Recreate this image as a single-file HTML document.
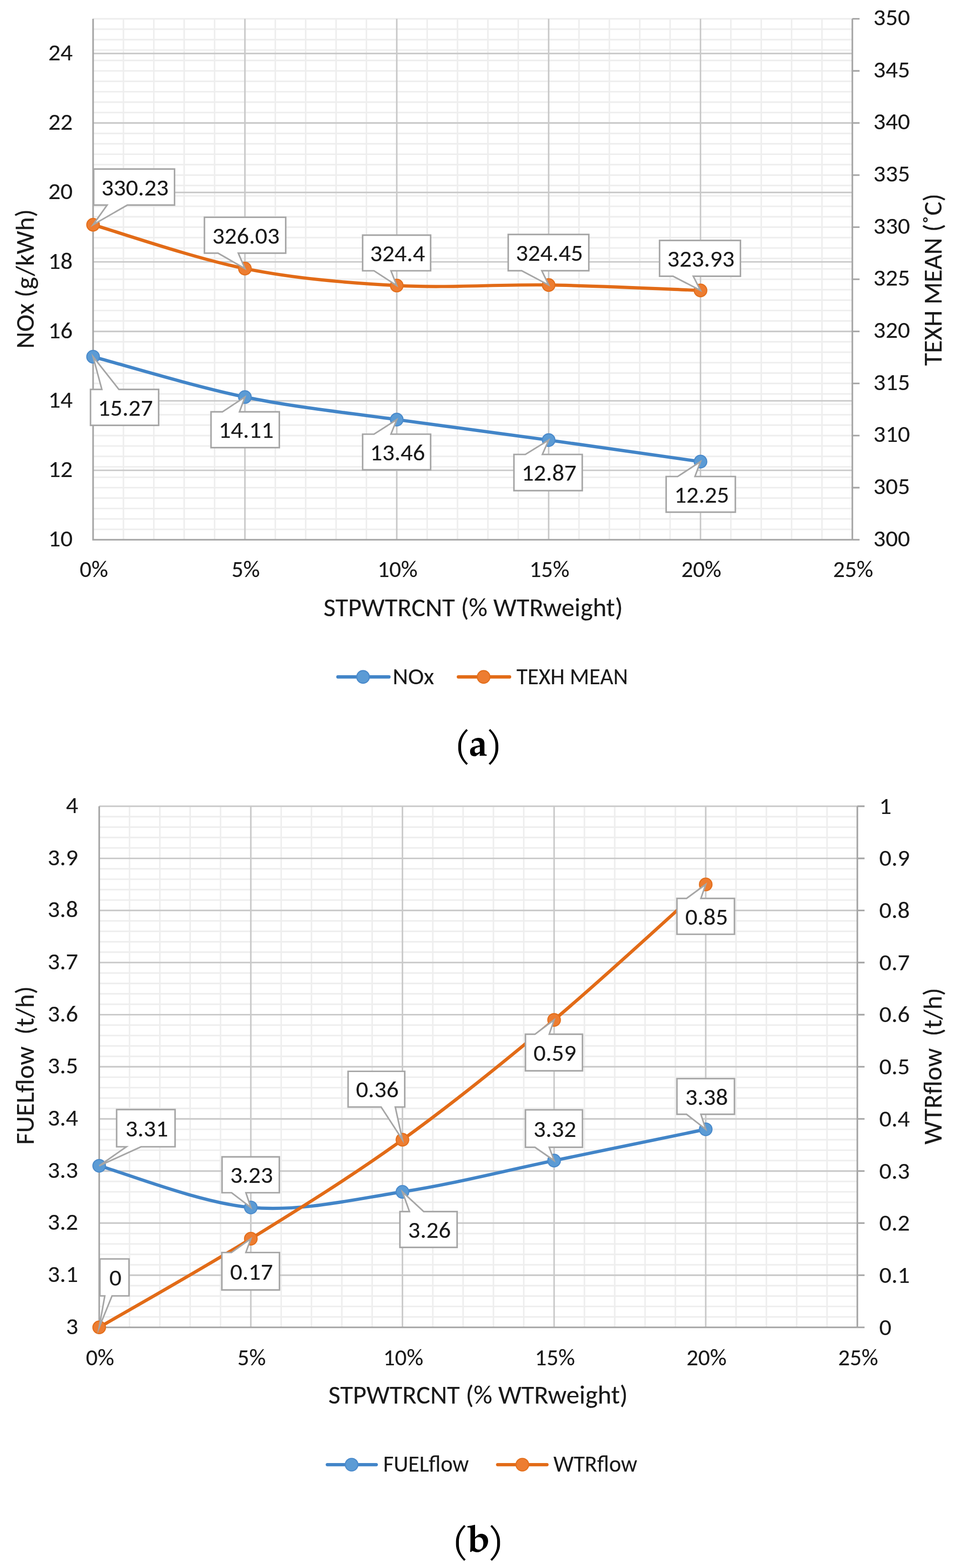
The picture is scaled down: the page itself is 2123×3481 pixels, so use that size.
<!DOCTYPE html><html><head><meta charset="utf-8"><title>Chart</title><style>html,body{margin:0;padding:0;background:#fff;}svg{display:block;}</style></head><body>
<svg width="2123" height="3481" viewBox="0 0 2123 3481">
<rect width="2123" height="3481" fill="#fff"/>
<path d="M274.1,41.7V1198.3M341.6,41.7V1198.3M409.0,41.7V1198.3M476.5,41.7V1198.3M611.4,41.7V1198.3M678.8,41.7V1198.3M746.3,41.7V1198.3M813.7,41.7V1198.3M948.6,41.7V1198.3M1016.0,41.7V1198.3M1083.5,41.7V1198.3M1150.9,41.7V1198.3M1285.8,41.7V1198.3M1353.2,41.7V1198.3M1420.7,41.7V1198.3M1488.1,41.7V1198.3M1623.0,41.7V1198.3M1690.5,41.7V1198.3M1757.9,41.7V1198.3M1825.4,41.7V1198.3M206.7,41.7H1892.8M206.7,64.8H1892.8M206.7,88.0H1892.8M206.7,111.1H1892.8M206.7,134.2H1892.8M206.7,157.4H1892.8M206.7,180.5H1892.8M206.7,203.6H1892.8M206.7,226.8H1892.8M206.7,249.9H1892.8M206.7,273.0H1892.8M206.7,296.2H1892.8M206.7,319.3H1892.8M206.7,342.4H1892.8M206.7,365.5H1892.8M206.7,388.7H1892.8M206.7,411.8H1892.8M206.7,434.9H1892.8M206.7,458.1H1892.8M206.7,481.2H1892.8M206.7,504.3H1892.8M206.7,527.5H1892.8M206.7,550.6H1892.8M206.7,573.7H1892.8M206.7,596.9H1892.8M206.7,620.0H1892.8M206.7,643.1H1892.8M206.7,666.3H1892.8M206.7,689.4H1892.8M206.7,712.5H1892.8M206.7,735.7H1892.8M206.7,758.8H1892.8M206.7,781.9H1892.8M206.7,805.1H1892.8M206.7,828.2H1892.8M206.7,851.3H1892.8M206.7,874.5H1892.8M206.7,897.6H1892.8M206.7,920.7H1892.8M206.7,943.8H1892.8M206.7,967.0H1892.8M206.7,990.1H1892.8M206.7,1013.2H1892.8M206.7,1036.4H1892.8M206.7,1059.5H1892.8M206.7,1082.6H1892.8M206.7,1105.8H1892.8M206.7,1128.9H1892.8M206.7,1152.0H1892.8M206.7,1175.2H1892.8" stroke="#eeeeee" stroke-width="3.4" fill="none"/>
<path d="M543.9,41.7V1198.3M881.1,41.7V1198.3M1218.4,41.7V1198.3M1555.6,41.7V1198.3M206.7,1044.1H1892.8M206.7,889.9H1892.8M206.7,735.7H1892.8M206.7,581.4H1892.8M206.7,427.2H1892.8M206.7,273.0H1892.8M206.7,118.8H1892.8" stroke="#c9c9c9" stroke-width="3.4" fill="none"/>
<path d="M206.7,41.7V1198.3H1892.8" stroke="#a6a6a6" stroke-width="3.6" fill="none"/>
<path d="M1892.8,41.7V1198.3M1892.8,1198.3h16M1892.8,1082.6h16M1892.8,967.0h16M1892.8,851.3h16M1892.8,735.7h16M1892.8,620.0h16M1892.8,504.3h16M1892.8,388.7h16M1892.8,273.0h16M1892.8,157.4h16M1892.8,41.7h16" stroke="#a6a6a6" stroke-width="3.6" fill="none"/>
<text x="161.5" y="1213.3" stroke="#1a1a1a" stroke-width="0.15" font-family="Carlito, 'Liberation Sans', sans-serif" font-size="51.5" text-anchor="end" fill="#1a1a1a" textLength="54.3" lengthAdjust="spacingAndGlyphs" style="white-space:pre;font-size-adjust:0.47754">10</text>
<text x="161.5" y="1059.1" stroke="#1a1a1a" stroke-width="0.15" font-family="Carlito, 'Liberation Sans', sans-serif" font-size="51.5" text-anchor="end" fill="#1a1a1a" textLength="54.3" lengthAdjust="spacingAndGlyphs" style="white-space:pre;font-size-adjust:0.47754">12</text>
<text x="161.5" y="904.9" stroke="#1a1a1a" stroke-width="0.15" font-family="Carlito, 'Liberation Sans', sans-serif" font-size="51.5" text-anchor="end" fill="#1a1a1a" textLength="54.3" lengthAdjust="spacingAndGlyphs" style="white-space:pre;font-size-adjust:0.47754">14</text>
<text x="161.5" y="750.7" stroke="#1a1a1a" stroke-width="0.15" font-family="Carlito, 'Liberation Sans', sans-serif" font-size="51.5" text-anchor="end" fill="#1a1a1a" textLength="54.3" lengthAdjust="spacingAndGlyphs" style="white-space:pre;font-size-adjust:0.47754">16</text>
<text x="161.5" y="596.5" stroke="#1a1a1a" stroke-width="0.15" font-family="Carlito, 'Liberation Sans', sans-serif" font-size="51.5" text-anchor="end" fill="#1a1a1a" textLength="54.3" lengthAdjust="spacingAndGlyphs" style="white-space:pre;font-size-adjust:0.47754">18</text>
<text x="161.5" y="442.3" stroke="#1a1a1a" stroke-width="0.15" font-family="Carlito, 'Liberation Sans', sans-serif" font-size="51.5" text-anchor="end" fill="#1a1a1a" textLength="54.3" lengthAdjust="spacingAndGlyphs" style="white-space:pre;font-size-adjust:0.47754">20</text>
<text x="161.5" y="288.0" stroke="#1a1a1a" stroke-width="0.15" font-family="Carlito, 'Liberation Sans', sans-serif" font-size="51.5" text-anchor="end" fill="#1a1a1a" textLength="54.3" lengthAdjust="spacingAndGlyphs" style="white-space:pre;font-size-adjust:0.47754">22</text>
<text x="161.5" y="133.8" stroke="#1a1a1a" stroke-width="0.15" font-family="Carlito, 'Liberation Sans', sans-serif" font-size="51.5" text-anchor="end" fill="#1a1a1a" textLength="54.3" lengthAdjust="spacingAndGlyphs" style="white-space:pre;font-size-adjust:0.47754">24</text>
<text x="1939.5" y="1212.6" stroke="#1a1a1a" stroke-width="0.15" font-family="Carlito, 'Liberation Sans', sans-serif" font-size="51.5" text-anchor="start" fill="#1a1a1a" textLength="81.4" lengthAdjust="spacingAndGlyphs" style="white-space:pre;font-size-adjust:0.47754">300</text>
<text x="1939.5" y="1097.0" stroke="#1a1a1a" stroke-width="0.15" font-family="Carlito, 'Liberation Sans', sans-serif" font-size="51.5" text-anchor="start" fill="#1a1a1a" textLength="81.4" lengthAdjust="spacingAndGlyphs" style="white-space:pre;font-size-adjust:0.47754">305</text>
<text x="1939.5" y="981.3" stroke="#1a1a1a" stroke-width="0.15" font-family="Carlito, 'Liberation Sans', sans-serif" font-size="51.5" text-anchor="start" fill="#1a1a1a" textLength="81.4" lengthAdjust="spacingAndGlyphs" style="white-space:pre;font-size-adjust:0.47754">310</text>
<text x="1939.5" y="865.6" stroke="#1a1a1a" stroke-width="0.15" font-family="Carlito, 'Liberation Sans', sans-serif" font-size="51.5" text-anchor="start" fill="#1a1a1a" textLength="81.4" lengthAdjust="spacingAndGlyphs" style="white-space:pre;font-size-adjust:0.47754">315</text>
<text x="1939.5" y="750.0" stroke="#1a1a1a" stroke-width="0.15" font-family="Carlito, 'Liberation Sans', sans-serif" font-size="51.5" text-anchor="start" fill="#1a1a1a" textLength="81.4" lengthAdjust="spacingAndGlyphs" style="white-space:pre;font-size-adjust:0.47754">320</text>
<text x="1939.5" y="634.3" stroke="#1a1a1a" stroke-width="0.15" font-family="Carlito, 'Liberation Sans', sans-serif" font-size="51.5" text-anchor="start" fill="#1a1a1a" textLength="81.4" lengthAdjust="spacingAndGlyphs" style="white-space:pre;font-size-adjust:0.47754">325</text>
<text x="1939.5" y="518.7" stroke="#1a1a1a" stroke-width="0.15" font-family="Carlito, 'Liberation Sans', sans-serif" font-size="51.5" text-anchor="start" fill="#1a1a1a" textLength="81.4" lengthAdjust="spacingAndGlyphs" style="white-space:pre;font-size-adjust:0.47754">330</text>
<text x="1939.5" y="403.0" stroke="#1a1a1a" stroke-width="0.15" font-family="Carlito, 'Liberation Sans', sans-serif" font-size="51.5" text-anchor="start" fill="#1a1a1a" textLength="81.4" lengthAdjust="spacingAndGlyphs" style="white-space:pre;font-size-adjust:0.47754">335</text>
<text x="1939.5" y="287.3" stroke="#1a1a1a" stroke-width="0.15" font-family="Carlito, 'Liberation Sans', sans-serif" font-size="51.5" text-anchor="start" fill="#1a1a1a" textLength="81.4" lengthAdjust="spacingAndGlyphs" style="white-space:pre;font-size-adjust:0.47754">340</text>
<text x="1939.5" y="171.7" stroke="#1a1a1a" stroke-width="0.15" font-family="Carlito, 'Liberation Sans', sans-serif" font-size="51.5" text-anchor="start" fill="#1a1a1a" textLength="81.4" lengthAdjust="spacingAndGlyphs" style="white-space:pre;font-size-adjust:0.47754">345</text>
<text x="1939.5" y="56.0" stroke="#1a1a1a" stroke-width="0.15" font-family="Carlito, 'Liberation Sans', sans-serif" font-size="51.5" text-anchor="start" fill="#1a1a1a" textLength="81.4" lengthAdjust="spacingAndGlyphs" style="white-space:pre;font-size-adjust:0.47754">350</text>
<text x="208.5" y="1281.0" stroke="#1a1a1a" stroke-width="0.15" font-family="Carlito, 'Liberation Sans', sans-serif" font-size="51.5" text-anchor="middle" fill="#1a1a1a" textLength="62.9" lengthAdjust="spacingAndGlyphs" style="white-space:pre;font-size-adjust:0.47754">0%</text>
<text x="545.7" y="1281.0" stroke="#1a1a1a" stroke-width="0.15" font-family="Carlito, 'Liberation Sans', sans-serif" font-size="51.5" text-anchor="middle" fill="#1a1a1a" textLength="62.9" lengthAdjust="spacingAndGlyphs" style="white-space:pre;font-size-adjust:0.47754">5%</text>
<text x="882.9" y="1281.0" stroke="#1a1a1a" stroke-width="0.15" font-family="Carlito, 'Liberation Sans', sans-serif" font-size="51.5" text-anchor="middle" fill="#1a1a1a" textLength="89.0" lengthAdjust="spacingAndGlyphs" style="white-space:pre;font-size-adjust:0.47754">10%</text>
<text x="1220.2" y="1281.0" stroke="#1a1a1a" stroke-width="0.15" font-family="Carlito, 'Liberation Sans', sans-serif" font-size="51.5" text-anchor="middle" fill="#1a1a1a" textLength="89.0" lengthAdjust="spacingAndGlyphs" style="white-space:pre;font-size-adjust:0.47754">15%</text>
<text x="1557.4" y="1281.0" stroke="#1a1a1a" stroke-width="0.15" font-family="Carlito, 'Liberation Sans', sans-serif" font-size="51.5" text-anchor="middle" fill="#1a1a1a" textLength="89.0" lengthAdjust="spacingAndGlyphs" style="white-space:pre;font-size-adjust:0.47754">20%</text>
<text x="1894.6" y="1281.0" stroke="#1a1a1a" stroke-width="0.15" font-family="Carlito, 'Liberation Sans', sans-serif" font-size="51.5" text-anchor="middle" fill="#1a1a1a" textLength="89.0" lengthAdjust="spacingAndGlyphs" style="white-space:pre;font-size-adjust:0.47754">25%</text>
<path d="M206.7,791.9 C262.9,806.9 431.5,858.1 543.9,881.4 C656.3,904.7 768.7,915.6 881.1,931.5 C993.5,947.4 1106.0,961.5 1218.4,977.0 C1330.8,992.6 1499.4,1016.8 1555.6,1024.8" stroke="#4285c8" stroke-width="7.2" fill="none" stroke-linecap="round" stroke-linejoin="round"/>
<path d="M206.7,499.0 C262.9,515.2 431.5,573.7 543.9,596.2 C656.3,618.7 768.7,627.8 881.1,633.9 C993.5,640.0 1106.0,630.9 1218.4,632.7 C1330.8,634.5 1499.4,642.7 1555.6,644.8" stroke="#e26b17" stroke-width="7.2" fill="none" stroke-linecap="round" stroke-linejoin="round"/>
<circle cx="206.7" cy="791.9" r="14.0" fill="#5b9bd5" stroke="#4a8acb" stroke-width="2.4"/>
<circle cx="543.9" cy="881.4" r="14.0" fill="#5b9bd5" stroke="#4a8acb" stroke-width="2.4"/>
<circle cx="881.1" cy="931.5" r="14.0" fill="#5b9bd5" stroke="#4a8acb" stroke-width="2.4"/>
<circle cx="1218.4" cy="977.0" r="14.0" fill="#5b9bd5" stroke="#4a8acb" stroke-width="2.4"/>
<circle cx="1555.6" cy="1024.8" r="14.0" fill="#5b9bd5" stroke="#4a8acb" stroke-width="2.4"/>
<circle cx="206.7" cy="499.0" r="14.0" fill="#ed7d31" stroke="#e36f1c" stroke-width="2.4"/>
<circle cx="543.9" cy="596.2" r="14.0" fill="#ed7d31" stroke="#e36f1c" stroke-width="2.4"/>
<circle cx="881.1" cy="633.9" r="14.0" fill="#ed7d31" stroke="#e36f1c" stroke-width="2.4"/>
<circle cx="1218.4" cy="632.7" r="14.0" fill="#ed7d31" stroke="#e36f1c" stroke-width="2.4"/>
<circle cx="1555.6" cy="644.8" r="14.0" fill="#ed7d31" stroke="#e36f1c" stroke-width="2.4"/>
<path d="M201.0,864.5 L226.2,864.5 L206.7,791.9 L264.0,864.5 L352.3,864.5 L352.3,944.3 L201.0,944.3 Z" fill="#fff" stroke="#a6a6a6" stroke-width="3.4" stroke-linejoin="miter" stroke-miterlimit="10"/>
<text x="278.6" y="922.7" stroke="#1a1a1a" stroke-width="0.15" font-family="Carlito, 'Liberation Sans', sans-serif" font-size="51.5" text-anchor="middle" fill="#1a1a1a" textLength="122.1" lengthAdjust="spacingAndGlyphs" style="white-space:pre;font-size-adjust:0.47754">15.27</text>
<path d="M468.6,914.3 L493.9,914.3 L543.9,881.4 L531.8,914.3 L620.3,914.3 L620.3,993.7 L468.6,993.7 Z" fill="#fff" stroke="#a6a6a6" stroke-width="3.4" stroke-linejoin="miter" stroke-miterlimit="10"/>
<text x="546.5" y="972.3" stroke="#1a1a1a" stroke-width="0.15" font-family="Carlito, 'Liberation Sans', sans-serif" font-size="51.5" text-anchor="middle" fill="#1a1a1a" textLength="122.1" lengthAdjust="spacingAndGlyphs" style="white-space:pre;font-size-adjust:0.47754">14.11</text>
<path d="M805.3,963.9 L830.5,963.9 L881.1,931.5 L868.2,963.9 L956.3,963.9 L956.3,1043.0 L805.3,1043.0 Z" fill="#fff" stroke="#a6a6a6" stroke-width="3.4" stroke-linejoin="miter" stroke-miterlimit="10"/>
<text x="882.8" y="1021.8" stroke="#1a1a1a" stroke-width="0.15" font-family="Carlito, 'Liberation Sans', sans-serif" font-size="51.5" text-anchor="middle" fill="#1a1a1a" textLength="122.1" lengthAdjust="spacingAndGlyphs" style="white-space:pre;font-size-adjust:0.47754">13.46</text>
<path d="M1141.3,1008.9 L1166.6,1008.9 L1218.4,977.0 L1204.5,1008.9 L1293.0,1008.9 L1293.0,1089.2 L1141.3,1089.2 Z" fill="#fff" stroke="#a6a6a6" stroke-width="3.4" stroke-linejoin="miter" stroke-miterlimit="10"/>
<text x="1219.2" y="1067.4" stroke="#1a1a1a" stroke-width="0.15" font-family="Carlito, 'Liberation Sans', sans-serif" font-size="51.5" text-anchor="middle" fill="#1a1a1a" textLength="122.1" lengthAdjust="spacingAndGlyphs" style="white-space:pre;font-size-adjust:0.47754">12.87</text>
<path d="M1479.3,1057.9 L1504.9,1057.9 L1555.6,1024.8 L1543.3,1057.9 L1633.0,1057.9 L1633.0,1137.0 L1479.3,1137.0 Z" fill="#fff" stroke="#a6a6a6" stroke-width="3.4" stroke-linejoin="miter" stroke-miterlimit="10"/>
<text x="1558.2" y="1115.8" stroke="#1a1a1a" stroke-width="0.15" font-family="Carlito, 'Liberation Sans', sans-serif" font-size="51.5" text-anchor="middle" fill="#1a1a1a" textLength="122.1" lengthAdjust="spacingAndGlyphs" style="white-space:pre;font-size-adjust:0.47754">12.25</text>
<path d="M208.0,375.3 L387.6,375.3 L387.6,455.2 L282.8,455.2 L206.7,499.0 L237.9,455.2 L208.0,455.2 Z" fill="#fff" stroke="#a6a6a6" stroke-width="3.4" stroke-linejoin="miter" stroke-miterlimit="10"/>
<text x="299.8" y="433.6" stroke="#1a1a1a" stroke-width="0.15" font-family="Carlito, 'Liberation Sans', sans-serif" font-size="51.5" text-anchor="middle" fill="#1a1a1a" textLength="149.3" lengthAdjust="spacingAndGlyphs" style="white-space:pre;font-size-adjust:0.47754">330.23</text>
<path d="M454.0,482.4 L634.5,482.4 L634.5,562.0 L529.2,562.0 L543.9,596.2 L484.1,562.0 L454.0,562.0 Z" fill="#fff" stroke="#a6a6a6" stroke-width="3.4" stroke-linejoin="miter" stroke-miterlimit="10"/>
<text x="546.2" y="540.5" stroke="#1a1a1a" stroke-width="0.15" font-family="Carlito, 'Liberation Sans', sans-serif" font-size="51.5" text-anchor="middle" fill="#1a1a1a" textLength="149.3" lengthAdjust="spacingAndGlyphs" style="white-space:pre;font-size-adjust:0.47754">326.03</text>
<path d="M805.3,522.0 L956.3,522.0 L956.3,601.1 L868.2,601.1 L881.1,633.9 L830.5,601.1 L805.3,601.1 Z" fill="#fff" stroke="#a6a6a6" stroke-width="3.4" stroke-linejoin="miter" stroke-miterlimit="10"/>
<text x="882.8" y="579.9" stroke="#1a1a1a" stroke-width="0.15" font-family="Carlito, 'Liberation Sans', sans-serif" font-size="51.5" text-anchor="middle" fill="#1a1a1a" textLength="122.1" lengthAdjust="spacingAndGlyphs" style="white-space:pre;font-size-adjust:0.47754">324.4</text>
<path d="M1128.6,520.5 L1307.6,520.5 L1307.6,601.0 L1203.2,601.0 L1218.4,632.7 L1158.4,601.0 L1128.6,601.0 Z" fill="#fff" stroke="#a6a6a6" stroke-width="3.4" stroke-linejoin="miter" stroke-miterlimit="10"/>
<text x="1220.1" y="579.1" stroke="#1a1a1a" stroke-width="0.15" font-family="Carlito, 'Liberation Sans', sans-serif" font-size="51.5" text-anchor="middle" fill="#1a1a1a" textLength="149.3" lengthAdjust="spacingAndGlyphs" style="white-space:pre;font-size-adjust:0.47754">324.45</text>
<path d="M1464.7,533.7 L1644.3,533.7 L1644.3,613.2 L1539.5,613.2 L1555.6,644.8 L1494.6,613.2 L1464.7,613.2 Z" fill="#fff" stroke="#a6a6a6" stroke-width="3.4" stroke-linejoin="miter" stroke-miterlimit="10"/>
<text x="1556.5" y="591.8" stroke="#1a1a1a" stroke-width="0.15" font-family="Carlito, 'Liberation Sans', sans-serif" font-size="51.5" text-anchor="middle" fill="#1a1a1a" textLength="149.3" lengthAdjust="spacingAndGlyphs" style="white-space:pre;font-size-adjust:0.47754">323.93</text>
<text x="74.7" y="619.2" stroke="#1a1a1a" stroke-width="0.15" font-family="Carlito, 'Liberation Sans', sans-serif" font-size="58" text-anchor="middle" fill="#1a1a1a" textLength="309.4" lengthAdjust="spacingAndGlyphs" transform="rotate(-90 74.7 619.2)" style="white-space:pre;font-size-adjust:0.47754">NOx (g/kWh)</text>
<text x="2091.4" y="621.0" stroke="#1a1a1a" stroke-width="0.15" font-family="Carlito, 'Liberation Sans', sans-serif" font-size="58" text-anchor="middle" fill="#1a1a1a" textLength="382.0" lengthAdjust="spacingAndGlyphs" transform="rotate(-90 2091.4 621.0)" style="white-space:pre;font-size-adjust:0.47754">TEXH MEAN (˚C)</text>
<text x="1050.9" y="1367.5" stroke="#1a1a1a" stroke-width="0.15" font-family="Carlito, 'Liberation Sans', sans-serif" font-size="58" text-anchor="middle" fill="#1a1a1a" textLength="665.0" lengthAdjust="spacingAndGlyphs" style="white-space:pre;font-size-adjust:0.47754">STPWTRCNT (% WTRweight)</text>
<path d="M750.4,1502.8H863.8" stroke="#4285c8" stroke-width="7.4" stroke-linecap="round"/>
<circle cx="806.2" cy="1502.8" r="14.0" fill="#5b9bd5" stroke="#4a8acb" stroke-width="2.4"/>
<text x="872.0" y="1518.5" stroke="#1a1a1a" stroke-width="0.15" font-family="Carlito, 'Liberation Sans', sans-serif" font-size="50.5" text-anchor="start" fill="#1a1a1a" textLength="92.0" lengthAdjust="spacingAndGlyphs" style="white-space:pre;font-size-adjust:0.47754">NOx</text>
<path d="M1018.0,1502.8H1131.6" stroke="#e26b17" stroke-width="7.4" stroke-linecap="round"/>
<circle cx="1074.0" cy="1502.8" r="14.0" fill="#ed7d31" stroke="#e36f1c" stroke-width="2.4"/>
<text x="1147.0" y="1518.5" stroke="#1a1a1a" stroke-width="0.15" font-family="Carlito, 'Liberation Sans', sans-serif" font-size="50.5" text-anchor="start" fill="#1a1a1a" textLength="247.5" lengthAdjust="spacingAndGlyphs" style="white-space:pre;font-size-adjust:0.47754">TEXH MEAN</text>
<path d="M287.6,1789.9V2946.7M355.0,1789.9V2946.7M422.3,1789.9V2946.7M489.7,1789.9V2946.7M624.4,1789.9V2946.7M691.7,1789.9V2946.7M759.1,1789.9V2946.7M826.4,1789.9V2946.7M961.1,1789.9V2946.7M1028.4,1789.9V2946.7M1095.8,1789.9V2946.7M1163.1,1789.9V2946.7M1297.8,1789.9V2946.7M1365.1,1789.9V2946.7M1432.5,1789.9V2946.7M1499.8,1789.9V2946.7M1634.5,1789.9V2946.7M1701.9,1789.9V2946.7M1769.2,1789.9V2946.7M1836.6,1789.9V2946.7M220.3,1789.9H1903.9M220.3,1813.0H1903.9M220.3,1836.2H1903.9M220.3,1859.3H1903.9M220.3,1882.4H1903.9M220.3,1905.6H1903.9M220.3,1928.7H1903.9M220.3,1951.9H1903.9M220.3,1975.0H1903.9M220.3,1998.1H1903.9M220.3,2021.3H1903.9M220.3,2044.4H1903.9M220.3,2067.5H1903.9M220.3,2090.7H1903.9M220.3,2113.8H1903.9M220.3,2136.9H1903.9M220.3,2160.1H1903.9M220.3,2183.2H1903.9M220.3,2206.3H1903.9M220.3,2229.5H1903.9M220.3,2252.6H1903.9M220.3,2275.8H1903.9M220.3,2298.9H1903.9M220.3,2322.0H1903.9M220.3,2345.2H1903.9M220.3,2368.3H1903.9M220.3,2391.4H1903.9M220.3,2414.6H1903.9M220.3,2437.7H1903.9M220.3,2460.8H1903.9M220.3,2484.0H1903.9M220.3,2507.1H1903.9M220.3,2530.3H1903.9M220.3,2553.4H1903.9M220.3,2576.5H1903.9M220.3,2599.7H1903.9M220.3,2622.8H1903.9M220.3,2645.9H1903.9M220.3,2669.1H1903.9M220.3,2692.2H1903.9M220.3,2715.3H1903.9M220.3,2738.5H1903.9M220.3,2761.6H1903.9M220.3,2784.7H1903.9M220.3,2807.9H1903.9M220.3,2831.0H1903.9M220.3,2854.2H1903.9M220.3,2877.3H1903.9M220.3,2900.4H1903.9M220.3,2923.6H1903.9" stroke="#eeeeee" stroke-width="3.4" fill="none"/>
<path d="M557.0,1789.9V2946.7M893.7,1789.9V2946.7M1230.5,1789.9V2946.7M1567.2,1789.9V2946.7M220.3,2831.0H1903.9M220.3,2715.3H1903.9M220.3,2599.7H1903.9M220.3,2484.0H1903.9M220.3,2368.3H1903.9M220.3,2252.6H1903.9M220.3,2136.9H1903.9M220.3,2021.3H1903.9M220.3,1905.6H1903.9M220.3,1789.9H1903.9" stroke="#c9c9c9" stroke-width="3.4" fill="none"/>
<path d="M220.3,1789.9V2946.7H1903.9" stroke="#a6a6a6" stroke-width="3.6" fill="none"/>
<path d="M1903.9,1789.9V2946.7M1903.9,2946.7h16M1903.9,2831.0h16M1903.9,2715.3h16M1903.9,2599.7h16M1903.9,2484.0h16M1903.9,2368.3h16M1903.9,2252.6h16M1903.9,2136.9h16M1903.9,2021.3h16M1903.9,1905.6h16M1903.9,1789.9h16" stroke="#a6a6a6" stroke-width="3.6" fill="none"/>
<text x="173.5" y="2961.7" stroke="#1a1a1a" stroke-width="0.15" font-family="Carlito, 'Liberation Sans', sans-serif" font-size="51.5" text-anchor="end" fill="#1a1a1a" textLength="27.1" lengthAdjust="spacingAndGlyphs" style="white-space:pre;font-size-adjust:0.47754">3</text>
<text x="173.5" y="2846.0" stroke="#1a1a1a" stroke-width="0.15" font-family="Carlito, 'Liberation Sans', sans-serif" font-size="51.5" text-anchor="end" fill="#1a1a1a" textLength="67.8" lengthAdjust="spacingAndGlyphs" style="white-space:pre;font-size-adjust:0.47754">3.1</text>
<text x="173.5" y="2730.4" stroke="#1a1a1a" stroke-width="0.15" font-family="Carlito, 'Liberation Sans', sans-serif" font-size="51.5" text-anchor="end" fill="#1a1a1a" textLength="67.8" lengthAdjust="spacingAndGlyphs" style="white-space:pre;font-size-adjust:0.47754">3.2</text>
<text x="173.5" y="2614.7" stroke="#1a1a1a" stroke-width="0.15" font-family="Carlito, 'Liberation Sans', sans-serif" font-size="51.5" text-anchor="end" fill="#1a1a1a" textLength="67.8" lengthAdjust="spacingAndGlyphs" style="white-space:pre;font-size-adjust:0.47754">3.3</text>
<text x="173.5" y="2499.0" stroke="#1a1a1a" stroke-width="0.15" font-family="Carlito, 'Liberation Sans', sans-serif" font-size="51.5" text-anchor="end" fill="#1a1a1a" textLength="67.8" lengthAdjust="spacingAndGlyphs" style="white-space:pre;font-size-adjust:0.47754">3.4</text>
<text x="173.5" y="2383.3" stroke="#1a1a1a" stroke-width="0.15" font-family="Carlito, 'Liberation Sans', sans-serif" font-size="51.5" text-anchor="end" fill="#1a1a1a" textLength="67.8" lengthAdjust="spacingAndGlyphs" style="white-space:pre;font-size-adjust:0.47754">3.5</text>
<text x="173.5" y="2267.6" stroke="#1a1a1a" stroke-width="0.15" font-family="Carlito, 'Liberation Sans', sans-serif" font-size="51.5" text-anchor="end" fill="#1a1a1a" textLength="67.8" lengthAdjust="spacingAndGlyphs" style="white-space:pre;font-size-adjust:0.47754">3.6</text>
<text x="173.5" y="2152.0" stroke="#1a1a1a" stroke-width="0.15" font-family="Carlito, 'Liberation Sans', sans-serif" font-size="51.5" text-anchor="end" fill="#1a1a1a" textLength="67.8" lengthAdjust="spacingAndGlyphs" style="white-space:pre;font-size-adjust:0.47754">3.7</text>
<text x="173.5" y="2036.3" stroke="#1a1a1a" stroke-width="0.15" font-family="Carlito, 'Liberation Sans', sans-serif" font-size="51.5" text-anchor="end" fill="#1a1a1a" textLength="67.8" lengthAdjust="spacingAndGlyphs" style="white-space:pre;font-size-adjust:0.47754">3.8</text>
<text x="173.5" y="1920.6" stroke="#1a1a1a" stroke-width="0.15" font-family="Carlito, 'Liberation Sans', sans-serif" font-size="51.5" text-anchor="end" fill="#1a1a1a" textLength="67.8" lengthAdjust="spacingAndGlyphs" style="white-space:pre;font-size-adjust:0.47754">3.9</text>
<text x="173.5" y="1804.9" stroke="#1a1a1a" stroke-width="0.15" font-family="Carlito, 'Liberation Sans', sans-serif" font-size="51.5" text-anchor="end" fill="#1a1a1a" textLength="27.1" lengthAdjust="spacingAndGlyphs" style="white-space:pre;font-size-adjust:0.47754">4</text>
<text x="1952.5" y="2963.5" stroke="#1a1a1a" stroke-width="0.15" font-family="Carlito, 'Liberation Sans', sans-serif" font-size="51.5" text-anchor="start" fill="#1a1a1a" textLength="27.1" lengthAdjust="spacingAndGlyphs" style="white-space:pre;font-size-adjust:0.47754">0</text>
<text x="1952.5" y="2847.8" stroke="#1a1a1a" stroke-width="0.15" font-family="Carlito, 'Liberation Sans', sans-serif" font-size="51.5" text-anchor="start" fill="#1a1a1a" textLength="67.8" lengthAdjust="spacingAndGlyphs" style="white-space:pre;font-size-adjust:0.47754">0.1</text>
<text x="1952.5" y="2732.2" stroke="#1a1a1a" stroke-width="0.15" font-family="Carlito, 'Liberation Sans', sans-serif" font-size="51.5" text-anchor="start" fill="#1a1a1a" textLength="67.8" lengthAdjust="spacingAndGlyphs" style="white-space:pre;font-size-adjust:0.47754">0.2</text>
<text x="1952.5" y="2616.5" stroke="#1a1a1a" stroke-width="0.15" font-family="Carlito, 'Liberation Sans', sans-serif" font-size="51.5" text-anchor="start" fill="#1a1a1a" textLength="67.8" lengthAdjust="spacingAndGlyphs" style="white-space:pre;font-size-adjust:0.47754">0.3</text>
<text x="1952.5" y="2500.8" stroke="#1a1a1a" stroke-width="0.15" font-family="Carlito, 'Liberation Sans', sans-serif" font-size="51.5" text-anchor="start" fill="#1a1a1a" textLength="67.8" lengthAdjust="spacingAndGlyphs" style="white-space:pre;font-size-adjust:0.47754">0.4</text>
<text x="1952.5" y="2385.1" stroke="#1a1a1a" stroke-width="0.15" font-family="Carlito, 'Liberation Sans', sans-serif" font-size="51.5" text-anchor="start" fill="#1a1a1a" textLength="67.8" lengthAdjust="spacingAndGlyphs" style="white-space:pre;font-size-adjust:0.47754">0.5</text>
<text x="1952.5" y="2269.4" stroke="#1a1a1a" stroke-width="0.15" font-family="Carlito, 'Liberation Sans', sans-serif" font-size="51.5" text-anchor="start" fill="#1a1a1a" textLength="67.8" lengthAdjust="spacingAndGlyphs" style="white-space:pre;font-size-adjust:0.47754">0.6</text>
<text x="1952.5" y="2153.8" stroke="#1a1a1a" stroke-width="0.15" font-family="Carlito, 'Liberation Sans', sans-serif" font-size="51.5" text-anchor="start" fill="#1a1a1a" textLength="67.8" lengthAdjust="spacingAndGlyphs" style="white-space:pre;font-size-adjust:0.47754">0.7</text>
<text x="1952.5" y="2038.1" stroke="#1a1a1a" stroke-width="0.15" font-family="Carlito, 'Liberation Sans', sans-serif" font-size="51.5" text-anchor="start" fill="#1a1a1a" textLength="67.8" lengthAdjust="spacingAndGlyphs" style="white-space:pre;font-size-adjust:0.47754">0.8</text>
<text x="1952.5" y="1922.4" stroke="#1a1a1a" stroke-width="0.15" font-family="Carlito, 'Liberation Sans', sans-serif" font-size="51.5" text-anchor="start" fill="#1a1a1a" textLength="67.8" lengthAdjust="spacingAndGlyphs" style="white-space:pre;font-size-adjust:0.47754">0.9</text>
<text x="1952.5" y="1806.7" stroke="#1a1a1a" stroke-width="0.15" font-family="Carlito, 'Liberation Sans', sans-serif" font-size="51.5" text-anchor="start" fill="#1a1a1a" textLength="27.1" lengthAdjust="spacingAndGlyphs" style="white-space:pre;font-size-adjust:0.47754">1</text>
<text x="222.1" y="3030.5" stroke="#1a1a1a" stroke-width="0.15" font-family="Carlito, 'Liberation Sans', sans-serif" font-size="51.5" text-anchor="middle" fill="#1a1a1a" textLength="62.9" lengthAdjust="spacingAndGlyphs" style="white-space:pre;font-size-adjust:0.47754">0%</text>
<text x="558.8" y="3030.5" stroke="#1a1a1a" stroke-width="0.15" font-family="Carlito, 'Liberation Sans', sans-serif" font-size="51.5" text-anchor="middle" fill="#1a1a1a" textLength="62.9" lengthAdjust="spacingAndGlyphs" style="white-space:pre;font-size-adjust:0.47754">5%</text>
<text x="895.5" y="3030.5" stroke="#1a1a1a" stroke-width="0.15" font-family="Carlito, 'Liberation Sans', sans-serif" font-size="51.5" text-anchor="middle" fill="#1a1a1a" textLength="89.0" lengthAdjust="spacingAndGlyphs" style="white-space:pre;font-size-adjust:0.47754">10%</text>
<text x="1232.3" y="3030.5" stroke="#1a1a1a" stroke-width="0.15" font-family="Carlito, 'Liberation Sans', sans-serif" font-size="51.5" text-anchor="middle" fill="#1a1a1a" textLength="89.0" lengthAdjust="spacingAndGlyphs" style="white-space:pre;font-size-adjust:0.47754">15%</text>
<text x="1569.0" y="3030.5" stroke="#1a1a1a" stroke-width="0.15" font-family="Carlito, 'Liberation Sans', sans-serif" font-size="51.5" text-anchor="middle" fill="#1a1a1a" textLength="89.0" lengthAdjust="spacingAndGlyphs" style="white-space:pre;font-size-adjust:0.47754">20%</text>
<text x="1905.7" y="3030.5" stroke="#1a1a1a" stroke-width="0.15" font-family="Carlito, 'Liberation Sans', sans-serif" font-size="51.5" text-anchor="middle" fill="#1a1a1a" textLength="89.0" lengthAdjust="spacingAndGlyphs" style="white-space:pre;font-size-adjust:0.47754">25%</text>
<path d="M220.3,2588.1 C276.4,2603.5 444.8,2671.0 557.0,2680.6 C669.3,2690.3 781.5,2663.3 893.7,2645.9 C1006.0,2628.6 1118.2,2599.7 1230.5,2576.5 C1342.7,2553.4 1511.1,2518.7 1567.2,2507.1" stroke="#4285c8" stroke-width="7.2" fill="none" stroke-linecap="round" stroke-linejoin="round"/>
<path d="M220.3,2946.7 C276.4,2913.9 444.8,2819.5 557.0,2750.0 C669.3,2680.6 781.5,2611.2 893.7,2530.3 C1006.0,2449.3 1118.2,2358.7 1230.5,2264.2 C1342.7,2169.7 1511.1,2013.5 1567.2,1963.4" stroke="#e26b17" stroke-width="7.2" fill="none" stroke-linecap="round" stroke-linejoin="round"/>
<circle cx="220.3" cy="2588.1" r="14.0" fill="#5b9bd5" stroke="#4a8acb" stroke-width="2.4"/>
<circle cx="557.0" cy="2680.6" r="14.0" fill="#5b9bd5" stroke="#4a8acb" stroke-width="2.4"/>
<circle cx="893.7" cy="2645.9" r="14.0" fill="#5b9bd5" stroke="#4a8acb" stroke-width="2.4"/>
<circle cx="1230.5" cy="2576.5" r="14.0" fill="#5b9bd5" stroke="#4a8acb" stroke-width="2.4"/>
<circle cx="1567.2" cy="2507.1" r="14.0" fill="#5b9bd5" stroke="#4a8acb" stroke-width="2.4"/>
<circle cx="220.3" cy="2946.7" r="14.0" fill="#ed7d31" stroke="#e36f1c" stroke-width="2.4"/>
<circle cx="557.0" cy="2750.0" r="14.0" fill="#ed7d31" stroke="#e36f1c" stroke-width="2.4"/>
<circle cx="893.7" cy="2530.3" r="14.0" fill="#ed7d31" stroke="#e36f1c" stroke-width="2.4"/>
<circle cx="1230.5" cy="2264.2" r="14.0" fill="#ed7d31" stroke="#e36f1c" stroke-width="2.4"/>
<circle cx="1567.2" cy="1963.4" r="14.0" fill="#ed7d31" stroke="#e36f1c" stroke-width="2.4"/>
<path d="M259.0,2463.2 L388.8,2463.2 L388.8,2545.9 L313.1,2545.9 L220.3,2588.1 L280.6,2545.9 L259.0,2545.9 Z" fill="#fff" stroke="#a6a6a6" stroke-width="3.4" stroke-linejoin="miter" stroke-miterlimit="10"/>
<text x="325.9" y="2522.9" stroke="#1a1a1a" stroke-width="0.15" font-family="Carlito, 'Liberation Sans', sans-serif" font-size="51.5" text-anchor="middle" fill="#1a1a1a" textLength="95.0" lengthAdjust="spacingAndGlyphs" style="white-space:pre;font-size-adjust:0.47754">3.31</text>
<path d="M493.1,2568.3 L620.3,2568.3 L620.3,2647.9 L546.1,2647.9 L557.0,2680.6 L514.3,2647.9 L493.1,2647.9 Z" fill="#fff" stroke="#a6a6a6" stroke-width="3.4" stroke-linejoin="miter" stroke-miterlimit="10"/>
<text x="558.7" y="2626.4" stroke="#1a1a1a" stroke-width="0.15" font-family="Carlito, 'Liberation Sans', sans-serif" font-size="51.5" text-anchor="middle" fill="#1a1a1a" textLength="95.0" lengthAdjust="spacingAndGlyphs" style="white-space:pre;font-size-adjust:0.47754">3.23</text>
<path d="M888.1,2689.7 L909.3,2689.7 L893.7,2645.9 L941.0,2689.7 L1015.1,2689.7 L1015.1,2769.2 L888.1,2769.2 Z" fill="#fff" stroke="#a6a6a6" stroke-width="3.4" stroke-linejoin="miter" stroke-miterlimit="10"/>
<text x="953.6" y="2747.8" stroke="#1a1a1a" stroke-width="0.15" font-family="Carlito, 'Liberation Sans', sans-serif" font-size="51.5" text-anchor="middle" fill="#1a1a1a" textLength="95.0" lengthAdjust="spacingAndGlyphs" style="white-space:pre;font-size-adjust:0.47754">3.26</text>
<path d="M1166.9,2463.9 L1293.5,2463.9 L1293.5,2547.0 L1219.7,2547.0 L1230.5,2576.5 L1188.0,2547.0 L1166.9,2547.0 Z" fill="#fff" stroke="#a6a6a6" stroke-width="3.4" stroke-linejoin="miter" stroke-miterlimit="10"/>
<text x="1232.2" y="2523.8" stroke="#1a1a1a" stroke-width="0.15" font-family="Carlito, 'Liberation Sans', sans-serif" font-size="51.5" text-anchor="middle" fill="#1a1a1a" textLength="95.0" lengthAdjust="spacingAndGlyphs" style="white-space:pre;font-size-adjust:0.47754">3.32</text>
<path d="M1503.3,2394.6 L1631.0,2394.6 L1631.0,2473.8 L1556.5,2473.8 L1567.2,2507.1 L1524.6,2473.8 L1503.3,2473.8 Z" fill="#fff" stroke="#a6a6a6" stroke-width="3.4" stroke-linejoin="miter" stroke-miterlimit="10"/>
<text x="1569.2" y="2452.5" stroke="#1a1a1a" stroke-width="0.15" font-family="Carlito, 'Liberation Sans', sans-serif" font-size="51.5" text-anchor="middle" fill="#1a1a1a" textLength="95.0" lengthAdjust="spacingAndGlyphs" style="white-space:pre;font-size-adjust:0.47754">3.38</text>
<path d="M221.9,2794.9 L286.5,2794.9 L286.5,2876.9 L248.8,2876.9 L220.3,2946.7 L232.7,2876.9 L221.9,2876.9 Z" fill="#fff" stroke="#a6a6a6" stroke-width="3.4" stroke-linejoin="miter" stroke-miterlimit="10"/>
<text x="256.2" y="2854.2" stroke="#1a1a1a" stroke-width="0.15" font-family="Carlito, 'Liberation Sans', sans-serif" font-size="51.5" text-anchor="middle" fill="#1a1a1a" textLength="27.1" lengthAdjust="spacingAndGlyphs" style="white-space:pre;font-size-adjust:0.47754">0</text>
<path d="M492.7,2780.6 L514.0,2780.6 L557.0,2750.0 L546.0,2780.6 L620.6,2780.6 L620.6,2863.8 L492.7,2863.8 Z" fill="#fff" stroke="#a6a6a6" stroke-width="3.4" stroke-linejoin="miter" stroke-miterlimit="10"/>
<text x="558.6" y="2840.5" stroke="#1a1a1a" stroke-width="0.15" font-family="Carlito, 'Liberation Sans', sans-serif" font-size="51.5" text-anchor="middle" fill="#1a1a1a" textLength="95.0" lengthAdjust="spacingAndGlyphs" style="white-space:pre;font-size-adjust:0.47754">0.17</text>
<path d="M773.0,2378.4 L898.8,2378.4 L898.8,2457.6 L877.8,2457.6 L893.7,2530.3 L846.4,2457.6 L773.0,2457.6 Z" fill="#fff" stroke="#a6a6a6" stroke-width="3.4" stroke-linejoin="miter" stroke-miterlimit="10"/>
<text x="837.9" y="2436.3" stroke="#1a1a1a" stroke-width="0.15" font-family="Carlito, 'Liberation Sans', sans-serif" font-size="51.5" text-anchor="middle" fill="#1a1a1a" textLength="95.0" lengthAdjust="spacingAndGlyphs" style="white-space:pre;font-size-adjust:0.47754">0.36</text>
<path d="M1166.9,2296.0 L1188.0,2296.0 L1230.5,2264.2 L1219.7,2296.0 L1293.5,2296.0 L1293.5,2377.3 L1166.9,2377.3 Z" fill="#fff" stroke="#a6a6a6" stroke-width="3.4" stroke-linejoin="miter" stroke-miterlimit="10"/>
<text x="1232.2" y="2355.0" stroke="#1a1a1a" stroke-width="0.15" font-family="Carlito, 'Liberation Sans', sans-serif" font-size="51.5" text-anchor="middle" fill="#1a1a1a" textLength="95.0" lengthAdjust="spacingAndGlyphs" style="white-space:pre;font-size-adjust:0.47754">0.59</text>
<path d="M1503.3,1994.5 L1524.6,1994.5 L1567.2,1963.4 L1556.5,1994.5 L1631.0,1994.5 L1631.0,2074.1 L1503.3,2074.1 Z" fill="#fff" stroke="#a6a6a6" stroke-width="3.4" stroke-linejoin="miter" stroke-miterlimit="10"/>
<text x="1569.2" y="2052.6" stroke="#1a1a1a" stroke-width="0.15" font-family="Carlito, 'Liberation Sans', sans-serif" font-size="51.5" text-anchor="middle" fill="#1a1a1a" textLength="95.0" lengthAdjust="spacingAndGlyphs" style="white-space:pre;font-size-adjust:0.47754">0.85</text>
<text x="74.5" y="2365.5" stroke="#1a1a1a" stroke-width="0.15" font-family="Carlito, 'Liberation Sans', sans-serif" font-size="58" text-anchor="middle" fill="#1a1a1a" textLength="352.1" lengthAdjust="spacingAndGlyphs" transform="rotate(-90 74.5 2365.5)" style="white-space:pre;font-size-adjust:0.47754">FUELflow  (t/h)</text>
<text x="2091.0" y="2367.0" stroke="#1a1a1a" stroke-width="0.15" font-family="Carlito, 'Liberation Sans', sans-serif" font-size="58" text-anchor="middle" fill="#1a1a1a" textLength="347.6" lengthAdjust="spacingAndGlyphs" transform="rotate(-90 2091.0 2367.0)" style="white-space:pre;font-size-adjust:0.47754">WTRflow  (t/h)</text>
<text x="1061.7" y="3115.7" stroke="#1a1a1a" stroke-width="0.15" font-family="Carlito, 'Liberation Sans', sans-serif" font-size="58" text-anchor="middle" fill="#1a1a1a" textLength="665.0" lengthAdjust="spacingAndGlyphs" style="white-space:pre;font-size-adjust:0.47754">STPWTRCNT (% WTRweight)</text>
<path d="M727.0,3251.6H835.5" stroke="#4285c8" stroke-width="7.4" stroke-linecap="round"/>
<circle cx="780.8" cy="3251.6" r="14.0" fill="#5b9bd5" stroke="#4a8acb" stroke-width="2.4"/>
<text x="851.0" y="3266.5" stroke="#1a1a1a" stroke-width="0.15" font-family="Carlito, 'Liberation Sans', sans-serif" font-size="50.5" text-anchor="start" fill="#1a1a1a" textLength="190.2" lengthAdjust="spacingAndGlyphs" style="white-space:pre;font-size-adjust:0.47754">FUELflow</text>
<path d="M1105.2,3251.6H1214.6" stroke="#e26b17" stroke-width="7.4" stroke-linecap="round"/>
<circle cx="1160.0" cy="3251.6" r="14.0" fill="#ed7d31" stroke="#e36f1c" stroke-width="2.4"/>
<text x="1229.0" y="3266.5" stroke="#1a1a1a" stroke-width="0.15" font-family="Carlito, 'Liberation Sans', sans-serif" font-size="50.5" text-anchor="start" fill="#1a1a1a" textLength="186.2" lengthAdjust="spacingAndGlyphs" style="white-space:pre;font-size-adjust:0.47754">WTRflow</text>
<text y="1677.6" font-family="'TeX Gyre Pagella', 'Palatino Linotype', Palatino, 'Liberation Serif', serif" fill="#000"><tspan x="1008.4" font-size="79" stroke="#000" stroke-width="1.3">(</tspan><tspan x="1040.4" font-size="84" font-weight="bold">a</tspan><tspan x="1079.8" font-size="79" stroke="#000" stroke-width="1.3">)</tspan></text>
<text y="3445.0" font-family="'TeX Gyre Pagella', 'Palatino Linotype', Palatino, 'Liberation Serif', serif" fill="#000"><tspan x="1003.6" font-size="79" stroke="#000" stroke-width="1.3">(</tspan><tspan x="1037.2" font-size="84" font-weight="bold">b</tspan><tspan x="1083.5" font-size="79" stroke="#000" stroke-width="1.3">)</tspan></text>
</svg></body></html>
